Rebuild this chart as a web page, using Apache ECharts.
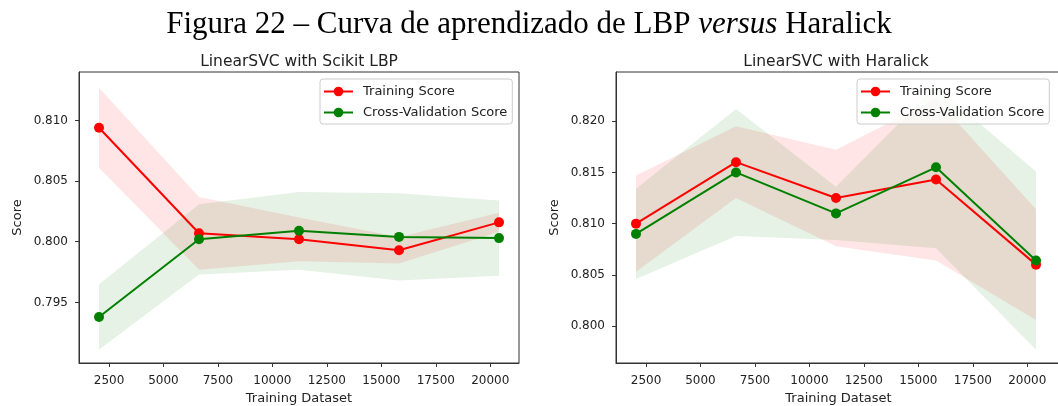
<!DOCTYPE html>
<html>
<head>
<meta charset="utf-8">
<script src="https://cdn.jsdelivr.net/npm/echarts@6/dist/echarts.min.js"></script>
<style>
  html, body { margin: 0; padding: 0; background: #fff; }
  #chart { width: 1058px; height: 406px; }
</style>
</head>
<body>
<div id="chart"></div>
<script>
// learning curve data
const trainSizes = [2040, 6630, 11220, 15810, 20400];
const xTicks = [2500, 5000, 7500, 10000, 12500, 15000, 17500, 20000];

const lbpTrainMean = [0.8094, 0.8007, 0.8002, 0.7993, 0.8016];
const lbpTrainStd = [0.0033, 0.0030, 0.0018, 0.0011, 0.0008];
const lbpCvMean = [0.7938, 0.8002, 0.8009, 0.8004, 0.8003];
const lbpCvStd = [0.0027, 0.0029, 0.0032, 0.0036, 0.0031];
const lbpTicks = [0.795, 0.800, 0.805, 0.810];

const haraTrainMean = [0.8100, 0.8160, 0.8125, 0.8143, 0.8060];
const haraTrainStd = [0.0047, 0.0035, 0.0047, 0.0079, 0.0054];
const haraCvMean = [0.8090, 0.8150, 0.8110, 0.8155, 0.8064];
const haraCvStd = [0.0044, 0.0062, 0.0026, 0.0079, 0.0087];
const haraTicks = [0.800, 0.805, 0.810, 0.815, 0.820];

const RED = '#ff0000';
const GREEN = '#008000';
const FONT = 'DejaVu Sans';

const chart = echarts.init(document.getElementById('chart'));

function band(idx, mean, std, fill) {
  const lo = mean.map((m, i) => m - std[i]);
  const hi = mean.map((m, i) => m + std[i]);
  return {
    type: 'custom',
    xAxisIndex: idx,
    yAxisIndex: idx,
    silent: true,
    clip: true,
    z: 1,
    data: trainSizes.map((x, i) => [x, lo[i], hi[i]]),
    encode: { x: 0, y: [1, 2] },
    renderItem: (params, api) => {
      if (params.dataIndex !== 0) return;
      const top = [];
      const bottom = [];
      for (let i = 0; i < trainSizes.length; i++) {
        top.push(api.coord([trainSizes[i], hi[i]]));
        bottom.unshift(api.coord([trainSizes[i], lo[i]]));
      }
      return {
        type: 'polygon',
        shape: { points: top.concat(bottom) },
        style: { fill: fill, stroke: null },
      };
    },
  };
}

function curve(idx, name, mean, color) {
  return {
    type: 'line',
    name: name,
    xAxisIndex: idx,
    yAxisIndex: idx,
    z: 3,
    data: trainSizes.map((x, i) => [x, mean[i]]),
    symbol: 'circle',
    symbolSize: 10,
    lineStyle: { color: color, width: 2 },
    itemStyle: { color: color },
  };
}

function xAxis(idx, max) {
  return {
    type: 'value',
    gridIndex: idx,
    min: 1122,
    max: max,
    name: 'Training Dataset',
    nameLocation: 'middle',
    nameGap: 28,
    nameTextStyle: { fontFamily: FONT, fontSize: 13, color: '#222' },
    axisLine: { show: true, lineStyle: { color: '#333', width: 1 } },
    axisTick: { show: true, customValues: xTicks, length: 4, lineStyle: { color: '#333' } },
    axisLabel: {
      customValues: xTicks,
      formatter: (v) => String(v),
      fontFamily: FONT, fontSize: 12, color: '#222', margin: 12,
    },
    splitLine: { show: false },
  };
}

function yAxis(idx, min, max, ticks) {
  return {
    type: 'value',
    gridIndex: idx,
    min: min,
    max: max,
    name: 'Score',
    nameLocation: 'middle',
    nameGap: 55,
    nameTextStyle: { fontFamily: FONT, fontSize: 13, color: '#222' },
    axisLine: { show: true, lineStyle: { color: '#333', width: 1 } },
    axisTick: { show: true, customValues: ticks, length: 4, lineStyle: { color: '#333' } },
    axisLabel: {
      customValues: ticks,
      formatter: (v) => v.toFixed(3),
      fontFamily: FONT, fontSize: 12, color: '#222', margin: 11,
    },
    splitLine: { show: false },
  };
}

function legend(left) {
  return {
    left: left,
    top: 79,
    orient: 'vertical',
    data: ['Training Score', 'Cross-Validation Score'],
    itemWidth: 29,
    itemHeight: 12,
    itemGap: 8,
    padding: [6, 5, 5, 3],
    borderColor: '#ccc',
    borderWidth: 1,
    borderRadius: 3,
    backgroundColor: 'rgba(255,255,255,0.8)',
    textStyle: { fontFamily: FONT, fontSize: 13, color: '#222', padding: [0, 0, 0, 5] },
  };
}

const subTitle = { fontFamily: FONT, fontSize: 15.5, fontWeight: 'normal', color: '#222' };
const serif = { fontFamily: 'Liberation Serif', fontSize: 31, fontWeight: 'normal', color: '#000' };

const option = {
  animation: false,
  backgroundColor: '#fff',
  title: [
    {
      text: '{n|Figura 22 – Curva de aprendizado de LBP }{i|versus}{n| Haralick}',
      left: 529,
      top: 9,
      padding: 0,
      textAlign: 'center',
      textStyle: {
        fontWeight: 'normal',
        rich: {
          n: serif,
          i: Object.assign({}, serif, { fontStyle: 'italic' }),
        },
      },
    },
    { text: 'LinearSVC with Scikit LBP', left: 299, top: 54, padding: 0, textAlign: 'center', textStyle: subTitle },
    { text: 'LinearSVC with Haralick', left: 836, top: 54, padding: 0, textAlign: 'center', textStyle: subTitle },
  ],
  legend: [legend(320), legend(857)],
  grid: [
    { left: 79, top: 72, width: 440, height: 291, outerBoundsMode: 'none', containLabel: false,
      show: true, borderColor: '#333', borderWidth: 1 },
    { left: 616, top: 72, width: 445, height: 291, outerBoundsMode: 'none', containLabel: false,
      show: true, borderColor: '#333', borderWidth: 1 },
  ],
  xAxis: [xAxis(0, 21318), xAxis(1, 21547)],
  yAxis: [yAxis(0, 0.7900, 0.8140, lbpTicks), yAxis(1, 0.7964, 0.8248, haraTicks)],
  series: [
    band(0, lbpTrainMean, lbpTrainStd, 'rgba(255,0,0,0.1)'),
    band(0, lbpCvMean, lbpCvStd, 'rgba(0,128,0,0.1)'),
    curve(0, 'Training Score', lbpTrainMean, RED),
    curve(0, 'Cross-Validation Score', lbpCvMean, GREEN),
    band(1, haraTrainMean, haraTrainStd, 'rgba(255,0,0,0.1)'),
    band(1, haraCvMean, haraCvStd, 'rgba(0,128,0,0.1)'),
    curve(1, 'Training Score', haraTrainMean, RED),
    curve(1, 'Cross-Validation Score', haraCvMean, GREEN),
  ],
};

chart.setOption(option);
</script>
</body>
</html>
